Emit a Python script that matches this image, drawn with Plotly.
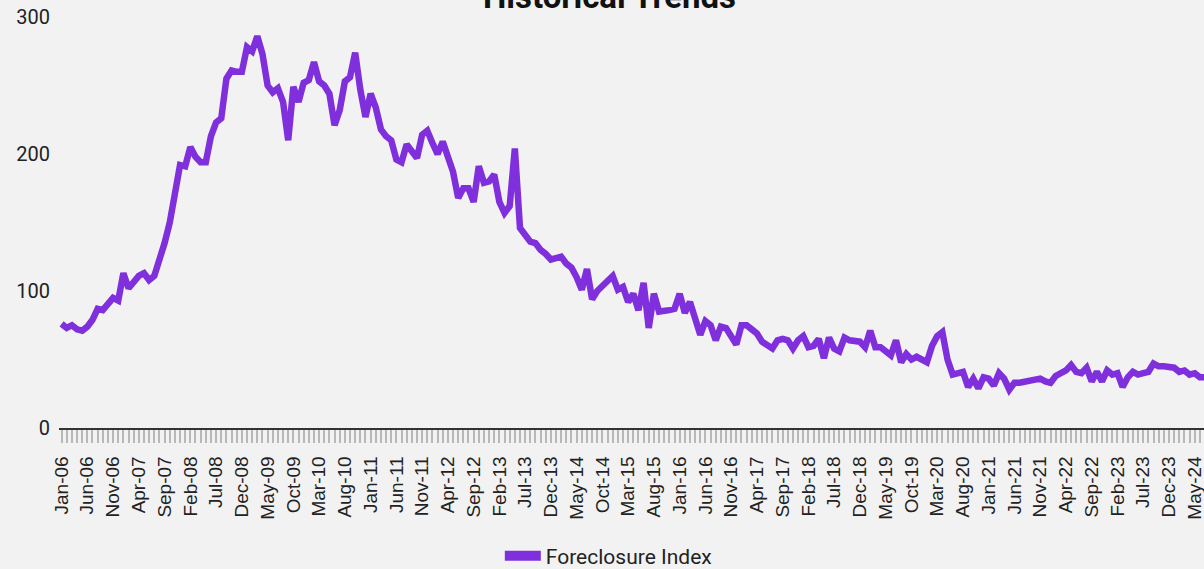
import pandas as pd
import plotly.graph_objects as go

# Monthly foreclosure index, Jan-06 onward
months = list(pd.date_range("2006-01-01", periods=223, freq="MS").strftime("%b-%y"))

foreclosure_index = [
    76, 73, 75, 72, 71, 74, 79, 87, 86, 90, 95, 93,            # 2006
    113, 102, 106, 111, 113, 108, 111, 122, 135, 150, 170, 192,  # 2007
    191, 205, 198, 194, 194, 213, 223, 226, 255, 261, 260, 260,  # 2008
    278, 275, 286, 273, 250, 245, 248, 238, 210, 249, 238, 252,  # 2009
    254, 267, 253, 250, 244, 221, 232, 253, 256, 274, 247, 227,  # 2010
    244, 234, 218, 213, 210, 196, 194, 207, 202, 197, 214, 217,  # 2011
    208, 200, 209, 196, 187, 168, 175, 175, 165, 191, 179, 180,  # 2012
    185, 165, 157, 162, 204, 146, 140, 136, 135, 130, 127, 123,  # 2013
    124, 125, 120, 117, 110, 101, 116, 94, 100, 104, 107, 111,   # 2014
    101, 103, 92, 98, 86, 106, 73, 98, 85, 85, 86, 87,           # 2015
    98, 84, 92, 80, 68, 78, 75, 64, 74, 73, 67, 61,              # 2016
    75, 75, 72, 69, 63, 60, 58, 64, 65, 64, 58, 64,              # 2017
    67, 59, 60, 65, 51, 66, 58, 56, 66, 64, 63, 63,              # 2018
    59, 71, 59, 59, 56, 53, 64, 48, 54, 50, 52, 50,              # 2019
    48, 60, 67, 70, 50, 39, 40, 41, 30, 36, 29, 37,              # 2020
    36, 31, 40, 36, 28, 33, 33, 34, 34, 35, 36, 34,              # 2021
    33, 38, 40, 42, 46, 41, 40, 44, 34, 41, 34, 42,              # 2022
    39, 40, 30, 37, 41, 39, 40, 41, 47, 45, 45, 45,              # 2023
    44, 41, 42, 39, 40, 37, 37,                                  # 2024
]

tick_labels = [m if i % 5 == 0 else "" for i, m in enumerate(months)]

series_name = "Foreclosure Index"
title_text = "Historical Trends"
line_color = "#7f2fdc"

fig = go.Figure()
fig.add_trace(go.Scatter(
    x=months, y=foreclosure_index, mode="lines",
    line=dict(color=line_color, width=6.5),
    showlegend=False, name=series_name,
))
# legend entry (rectangular swatch)
fig.add_trace(go.Scatter(
    x=[None], y=[None], mode="lines",
    line=dict(color=line_color, width=12),
    name=series_name, showlegend=True,
))

fig.update_layout(
    width=1204, height=569,
    margin=dict(l=59, r=0, t=17, b=141),
    paper_bgcolor="#f2f2f2", plot_bgcolor="#f2f2f2",
    font=dict(family="Roboto, Arial, sans-serif", color="#222222", size=20),
    legend=dict(orientation="h", x=0.385, xanchor="left",
                yref="container", y=1 - 556 / 569, yanchor="middle",
                itemwidth=36,
                font=dict(size=21, family="Roboto, sans-serif", color="#222222"),
                bgcolor="rgba(0,0,0,0)"),
    annotations=[dict(text="<b>" + title_text + "</b>", xref="paper", yref="paper",
                      x=0.481, y=1.05, xanchor="center", yanchor="middle",
                      showarrow=False, font=dict(size=33, family="Roboto, Arial, sans-serif",
                                                 color="#111111"))],
)
fig.update_xaxes(
    type="category", categoryorder="array", categoryarray=months,
    range=[-0.5, 221.8], automargin=False,
    tickmode="array", tickvals=months, ticktext=tick_labels,
    tickangle=-90, ticks="outside", ticklen=13, tickwidth=1.8, tickcolor="#b8b8b8",
    tickfont=dict(family="Liberation Sans, Arial, sans-serif", size=19, color="#222222"),
    ticklabelstandoff=6,
    showline=True, linecolor="#333333", linewidth=1.5,
    showgrid=False, zeroline=False,
)
fig.update_yaxes(
    range=[0, 300], tickvals=[0, 100, 200, 300], automargin=False,
    showgrid=False, zeroline=False, showline=False,
    tickfont=dict(size=20, family="Roboto, sans-serif", color="#222222"),
    ticklabelstandoff=8,
)

fig.write_html(
    "out.html",
    config={"displayModeBar": False},
    post_script="document.body.style.margin='0';document.body.style.overflow='hidden';"
                "document.body.style.background='#f2f2f2';",
)
